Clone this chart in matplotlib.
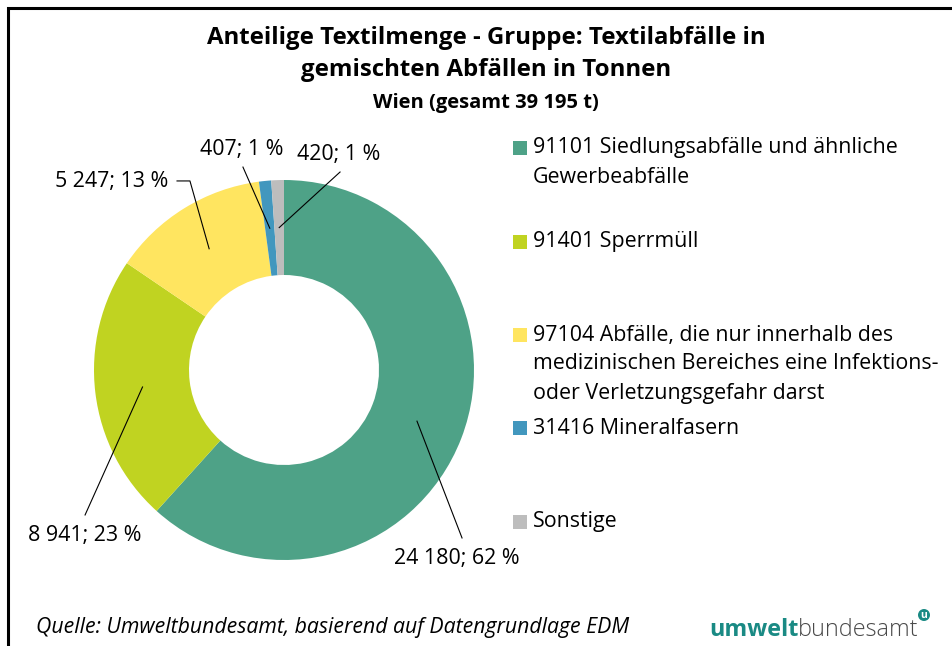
import matplotlib
matplotlib.use("Agg")
import numpy as np
import matplotlib.pyplot as plt
from matplotlib.patches import Rectangle, Circle

# Daten: Textilmengen in Tonnen, Wien
codes = ["91101 Siedlungsabfälle und ähnliche\nGewerbeabfälle",
         "91401 Sperrmüll",
         "97104 Abfälle, die nur innerhalb des\nmedizinischen Bereiches eine Infektions-\noder Verletzungsgefahr darst",
         "31416 Mineralfasern",
         "Sonstige"]
tonnen = [24180, 8941, 5247, 407, 420]
farben = ["#4EA287", "#C0D321", "#FFE560", "#4297BE", "#BDBDBD"]

W, H = 953, 646
plt.rcParams["font.family"] = ["Open Sans", "DejaVu Sans"]

fig = plt.figure(figsize=(W / 100, H / 100), dpi=100)

def fx(px):
    return px / W

def fy(py):
    return 1 - py / H

# Rahmen (nur links und oben sichtbar)
fig.patches.append(Rectangle((fx(8), -0.2), 2, fy(8) + 0.2, transform=fig.transFigure,
                             fill=False, edgecolor="black", linewidth=2.2))

# Titel
fig.text(fx(486), fy(38), "Anteilige Textilmenge - Gruppe: Textilabfälle in",
         ha="center", va="center", fontsize=17.3, fontweight="bold")
fig.text(fx(486), fy(70), "gemischten Abfällen in Tonnen",
         ha="center", va="center", fontsize=17.3, fontweight="bold")
fig.text(fx(486), fy(103), "Wien (gesamt 39 195 t)",
         ha="center", va="center", fontsize=14.5, fontweight="bold")

# Ringdiagramm
cx, cy, r = 284, 370, 190
ax = fig.add_axes([fx(cx - r), fy(cy + r), 2 * r / W, 2 * r / H])
wedges, _ = ax.pie(tonnen, colors=farben, startangle=90, counterclock=False,
                   radius=1, wedgeprops=dict(width=0.5, linewidth=0))
ax.set_xlim(-1, 1)
ax.set_ylim(-1, 1)
ax.set_aspect("equal")
ax.axis("off")

gesamt = sum(tonnen)
# Zielpunkte der Führungslinien und Textpositionen (Daten-Koordinaten)
linien_ende = [(0.937, -0.884), (-1.047, -0.763), (-0.495, 0.995), (-0.216, 1.068), (0.295, 1.042)]
text_pos = [(0.91, -0.99), (-1.047, -0.87), (-0.61, 0.99), (-0.221, 1.158), (0.289, 1.132)]
text_ha = ["center", "center", "right", "center", "center"]

for w, v, le, tp, ha in zip(wedges, tonnen, linien_ende, text_pos, text_ha):
    mitte = np.deg2rad((w.theta1 + w.theta2) / 2)
    x0, y0 = 0.75 * np.cos(mitte), 0.75 * np.sin(mitte)
    xs, ys = [x0, le[0]], [y0, le[1]]
    if ha == "right":
        xs.append(le[0] - 0.068)
        ys.append(le[1])
    ax.plot(xs, ys, color="black", linewidth=0.8, clip_on=False)
    label = f"{v:,}".replace(",", " ") + f"; {round(v / gesamt * 100)} %"
    ax.text(tp[0], tp[1], label, ha=ha, va="center", fontsize=15.4, clip_on=False)

# Legende
leg_y = [148, 242, 335, 428, 522]
for name, farbe, y in zip(codes, farben, leg_y):
    fig.patches.append(Rectangle((fx(513), fy(y + 7)), 14 / W, 14 / H,
                                 transform=fig.transFigure, facecolor=farbe, edgecolor="none"))
    for i, zeile in enumerate(name.split("\n")):
        fig.text(fx(533), fy(y + i * 29), zeile, ha="left", va="center", fontsize=15.4)

# Quelle
fig.text(fx(36), fy(628), "Quelle: Umweltbundesamt, basierend auf Datengrundlage EDM",
         ha="left", va="center", fontsize=15.3, style="italic")

# Logo
renderer = fig.canvas.get_renderer()
t1 = fig.text(fx(709), fy(636), "umwelt", ha="left", va="baseline",
              fontsize=16.8, fontweight="bold", color="#1A8A84")
bb = t1.get_window_extent(renderer)
t2 = fig.text(bb.x1 / W, fy(636), "bundesamt", ha="left", va="baseline",
              fontsize=16.8, color="#4A4A4A", fontweight="light")
bb2 = t2.get_window_extent(renderer)
fig.patches.append(Circle((bb2.x1 + 5, H - 615), 6, transform=None,
                          facecolor="#1A8A84", edgecolor="none"))
fig.text((bb2.x1 + 5) / W, fy(615.5), "u", ha="center", va="center",
         fontsize=7.5, fontweight="bold", color="white")

fig.savefig("out.png", dpi=100)
